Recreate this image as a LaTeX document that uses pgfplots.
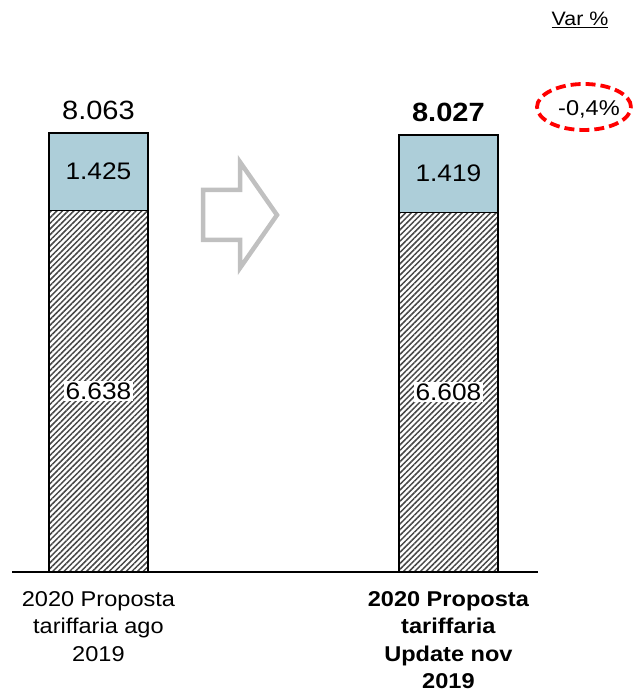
\documentclass[border=0pt]{standalone}
\usepackage{fontspec}
\setmainfont{Liberation Sans}[FakeStretch=1.1]
\usepackage{pgfplots}
\pgfplotsset{compat=1.18}
\usetikzlibrary{patterns.meta}
\definecolor{barblue}{RGB}{173,206,217}
\definecolor{arrowgray}{RGB}{192,192,192}
\begin{document}
\begin{tikzpicture}[x=1bp,y=1bp]
\useasboundingbox (0,0) rectangle (634,692);
\begin{axis}[
  at={(12bp,120bp)}, anchor=south west,
  scale only axis, width=526bp, height=544.5bp,
  xmin=-0.247, xmax=1.256, ymin=0, ymax=10000,
  ybar stacked, bar width=99bp,
  axis x line*=bottom, axis y line=none,
  x axis line style={-, line width=1.4bp},
  xtick={0,1}, major tick length=0pt,
  xticklabels={{2020 Proposta\\tariffaria ago\\2019},{\textbf{2020 Proposta}\\\textbf{tariffaria}\\\textbf{Update nov}\\\textbf{2019}}},
  xticklabel style={align=center, font=\fontsize{21.5}{27.5}\selectfont, yshift=-16bp},
  clip=false,
]
\addplot[draw=black, line width=1.3bp, pattern={Lines[angle=45,distance=4bp,line width=1.5bp]}, pattern color=black!72]
  coordinates {(0,6638) (1,6608)};
\addplot[draw=black, line width=1.3bp, fill=barblue]
  coordinates {(0,1425) (1,1419)};
\coordinate (a1) at (axis cs:0,3319);
\coordinate (a2) at (axis cs:1,3304);
\coordinate (b1) at (axis cs:0,7350.5);
\coordinate (b2) at (axis cs:1,7317.5);
\coordinate (t1) at (axis cs:0,8063);
\coordinate (t2) at (axis cs:1,8027);
\end{axis}
\node[fill=white, inner xsep=2bp, inner ysep=1.5bp, font=\fontsize{24}{27}\selectfont] at (a1) {6.638};
\node[fill=white, inner xsep=2bp, inner ysep=1.5bp, font=\fontsize{24}{27}\selectfont] at (a2) {6.608};
\node[font=\fontsize{24}{27}\selectfont] at (b1) {1.425};
\node[font=\fontsize{24}{27}\selectfont] at (b2) {1.419};
\node[anchor=base, inner sep=0pt, yshift=13bp, font=\fontsize{26.5}{30}\selectfont] at (t1) {8.063};
\node[anchor=base, inner sep=0pt, yshift=13bp, font=\fontsize{26.5}{30}\selectfont\bfseries] at (t2) {8.027};
% arrow shape
\draw[arrowgray, line width=4.5bp, line join=miter]
  (203,502) -- (240,502) -- (240,530) -- (277,477) -- (240,424) -- (240,452) -- (203,452) -- cycle;
% Var %
\node[font=\fontsize{19.5}{22}\selectfont, inner sep=0pt] at (580,672) {\underline{Var \%}};
% ellipse
\draw[red, line width=3.8bp, dash pattern=on 10bp off 5bp] (584,585) ellipse [x radius=47, y radius=23];
\node[font=\fontsize{21.5}{24}\selectfont, inner sep=0pt] at (589,583) {-0,4\%};
\end{tikzpicture}
\end{document}
